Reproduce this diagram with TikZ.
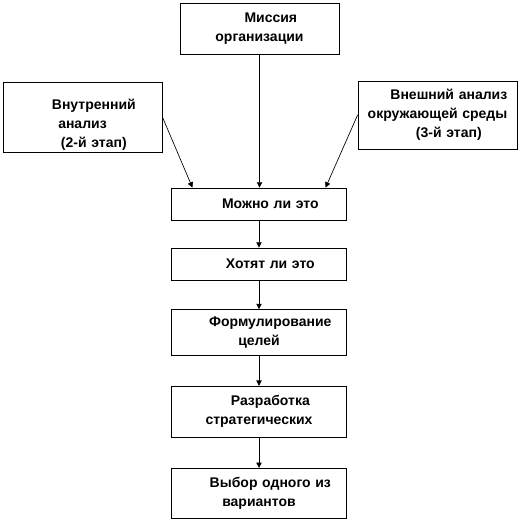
\documentclass[tikz,border=0pt]{standalone}
\usepackage{fontspec}
\setmainfont{Liberation Sans}
\usetikzlibrary{arrows.meta}
\newcommand{\fli}{\hspace*{17pt}}

\begin{document}
\begin{tikzpicture}[x=0.75pt, y=-0.75pt,
  box/.style={draw=black, line width=0.6pt, fill=white, inner sep=0pt,
              text width=119.25pt, align=center,
              font=\bfseries\fontsize{10.5}{14.3}\selectfont},
  colbox/.style={box, text width=131.25pt},
  arr/.style={-{Triangle[length=4pt, width=4pt]}, line width=0.5pt}]

  \useasboundingbox (0,0) rectangle (520,521);

  \node[box, minimum height=38.25pt] (mission) at (259.5,28.7) {\fli Миссия\\организации};
  \node[box, minimum height=52.5pt] (inner) at (82.5,117)
    {\rule{0pt}{19.5pt}\fli Внутренний\\анализ\\\fli (2-й этап)};
  \node[box, minimum height=51pt] (outer) at (437.5,115)
    {\fli Внешний анализ\\окружающей среды\\\fli (3-й этап)};

  \node[colbox, minimum height=24pt] (can) at (259,204) {\fli Можно ли это};
  \node[colbox, minimum height=24pt] (want) at (259,264) {\fli Хотят ли это};
  \node[colbox, minimum height=34.5pt] (goals) at (259,332.5) {\fli Формулирование\\целей};
  \node[colbox, minimum height=38.25pt] (strat) at (259,411.7) {\fli Разработка\\стратегических};
  \node[colbox, minimum height=37.5pt] (choice) at (259,493.3) {\fli Выбор одного из\\вариантов};

  \draw[arr] (mission) -- (mission |- can.north);
  \draw[arr] (inner.east) -- ([xshift=16pt]can.north west);
  \draw[arr] (outer.west) -- ([xshift=-16pt]can.north east);
  \foreach \a/\b in {can/want, want/goals, goals/strat, strat/choice}
    \draw[arr] (\a) -- (\b);
\end{tikzpicture}
\end{document}
